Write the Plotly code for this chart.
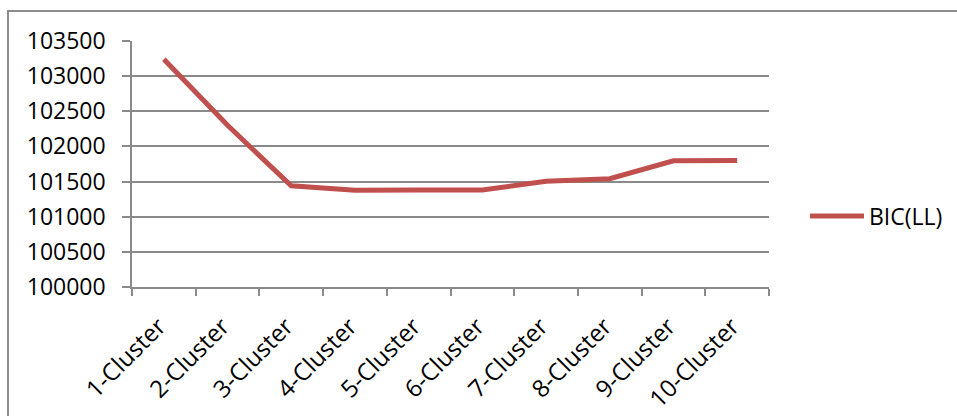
import plotly.graph_objects as go

# BIC (log-likelihood) by number of clusters
categories = ["1-Cluster", "2-Cluster", "3-Cluster", "4-Cluster", "5-Cluster",
              "6-Cluster", "7-Cluster", "8-Cluster", "9-Cluster", "10-Cluster"]
bic_ll = [103240, 102300, 101440, 101375, 101380, 101380, 101505, 101540, 101795, 101800]
y_ticks = [100000, 100500, 101000, 101500, 102000, 102500, 103000, 103500]
series_name = "BIC(LL)"

FONT = "Open Sans"
GRID = "#8a8a8a"
LINE = "#C0504D"

# plot area in pixels: x 132..769, y 41..287
def px_x(p):
    return (p - 132) / 637

def px_y(p):
    return (287 - p) / 246

fig = go.Figure()
fig.add_trace(go.Scatter(
    x=categories, y=bic_ll, mode="lines", name=series_name,
    line=dict(color=LINE, width=5), showlegend=False,
))

# legend key: long line sample followed by the series name
legend_y = px_y(216)
shapes = [
    dict(type="rect", xref="paper", yref="paper",
         x0=px_x(8), x1=px_x(975), y0=px_y(430), y1=px_y(11),
         line=dict(color="#8c8c8c", width=2), fillcolor="rgba(0,0,0,0)",
         layer="below"),
    dict(type="line", xref="paper", yref="paper",
         x0=px_x(810), x1=px_x(864), y0=legend_y, y1=legend_y,
         line=dict(color=LINE, width=5)),
]
annotations = [
    dict(text=series_name, xref="paper", yref="paper",
         x=px_x(867), y=legend_y, xanchor="left", yanchor="middle",
         showarrow=False, font=dict(family=FONT, size=23, color="black")),
]

fig.update_layout(
    width=957, height=416,
    margin=dict(l=132, r=188, t=41, b=129),
    paper_bgcolor="white", plot_bgcolor="white",
    font=dict(family=FONT, size=23, color="black"),
    showlegend=False,
    xaxis=dict(
        type="category", range=[-0.5, 9.5], tickangle=-45, automargin=False,
        showgrid=False, showline=True, linecolor=GRID, linewidth=1.5,
        ticks="outside", ticklen=7, tickcolor=GRID, tickwidth=1.5,
        tickson="boundaries", tickfont=dict(family=FONT, size=24),
        ticklabelstandoff=14, ticklabelshift=-5,
    ),
    yaxis=dict(
        range=[100000, 103500], tickvals=y_ticks, automargin=False,
        ticktext=[str(v) for v in y_ticks],
        showgrid=True, gridcolor=GRID, gridwidth=1.5,
        showline=True, linecolor=GRID, linewidth=1.5,
        ticks="outside", ticklen=8, tickcolor=GRID, tickwidth=1.5,
        ticklabelstandoff=12, zeroline=False,
        tickfont=dict(family=FONT, size=23),
    ),
    shapes=shapes,
    annotations=annotations,
)

fig.write_html("out.html")
